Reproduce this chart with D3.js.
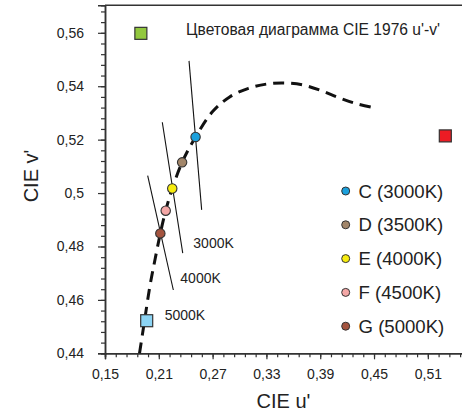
<!DOCTYPE html>
<html><head><meta charset="utf-8">
<script src="https://cdn.jsdelivr.net/npm/d3@7"></script>
<style>
body{margin:0;background:#fff;}
text{font-family:"Liberation Sans",Arial,sans-serif;fill:#222;}
</style></head>
<body><svg id="c" width="462" height="415"></svg>
<script>
// Data
const xTicks = [0.15, 0.21, 0.27, 0.33, 0.39, 0.45, 0.51];
const yTicks = [0.44, 0.46, 0.48, 0.50, 0.52, 0.54, 0.56];
const locusU = [0.1885, 0.194, 0.2, 0.206, 0.2117, 0.2177, 0.225, 0.236, 0.251, 0.27, 0.289, 0.31, 0.33, 0.35, 0.37, 0.39, 0.41, 0.43, 0.45];
const locusV = [0.44, 0.452, 0.465, 0.4755, 0.4849, 0.4934, 0.5017, 0.5115, 0.521, 0.5305, 0.536, 0.5392, 0.5408, 0.5412, 0.5405, 0.5385, 0.5358, 0.5335, 0.532];
const pointNames = ["C (3000K)", "D (3500K)", "E (4000K)", "F (4500K)", "G (5000K)"];
const pointU = [0.251, 0.236, 0.225, 0.2177, 0.2117];
const pointV = [0.521, 0.5115, 0.5017, 0.4934, 0.4849];
const pointColors = ["#1ba0dc", "#a2866a", "#f7ec0f", "#f4a7a6", "#a4543f"];
const squareU = [0.190, 0.1965, 0.5295];
const squareV = [0.5598, 0.4522, 0.5214];
const squareColors = ["#92c83e", "#8cd4f4", "#ec1c24"];
const isoLabels = ["3000K", "4000K", "5000K"];
const isoU1 = [0.2437, 0.2139, 0.1976];
const isoV1 = [0.5495, 0.5265, 0.5065];
const isoU2 = [0.2578, 0.2367, 0.2262];
const isoV2 = [0.4937, 0.4775, 0.4637];
const isoLabelU = [0.2485, 0.234, 0.2165];
const isoLabelV = [0.4796, 0.4662, 0.4524];
const title = "Цветовая диаграмма CIE 1976 u'-v'";

const svg = d3.select("#c");
const x = d3.scaleLinear().domain([0.15, 0.55]).range([105, 463.7]);
const y = d3.scaleLinear().domain([0.44, 0.5703]).range([353.3, 5.3]);
const fmt = d => d3.format(".2f")(d).replace(".", ",").replace(/0$/, "").replace(/,$/, "");
const fmtX = d => d3.format(".2f")(d).replace(".", ",");

// minor ticks
const xMinor = d3.range(0, 34).map(i => 0.15 + i * 0.012).filter(v => v <= 0.55);
const yMinor = d3.range(0, 33).map(i => 0.44 + i * 0.004).filter(v => v <= 0.5703);

const gx = svg.append("g").attr("transform", "translate(0,353.3)");
gx.call(d3.axisBottom(x).tickValues(xMinor).tickSize(4).tickFormat(""));
gx.append("g").call(d3.axisBottom(x).tickValues(xTicks).tickSize(6).tickPadding(10).tickFormat(fmtX));
const gy = svg.append("g").attr("transform", "translate(105,0)");
gy.call(d3.axisLeft(y).tickValues(yMinor).tickSize(4).tickFormat(""));
gy.append("g").call(d3.axisLeft(y).tickValues(yTicks).tickSize(7).tickPadding(14).tickFormat(fmt));
svg.selectAll(".domain").attr("stroke", "#333").attr("stroke-width", 1.5);
svg.selectAll(".tick line").attr("stroke", "#333").attr("stroke-width", 1.2);
svg.selectAll(".tick text").attr("font-size", 14).attr("font-family", "Liberation Sans, Arial, sans-serif").attr("fill", "#222");
// top border
svg.append("line").attr("x1", x(0.15)).attr("x2", 462).attr("y1", y(0.5703)).attr("y2", y(0.5703))
  .attr("stroke", "#333").attr("stroke-width", 1.5);

// axis titles
svg.append("text").attr("x", 283.5).attr("y", 408).attr("text-anchor", "middle").attr("font-size", 20).text("CIE u'");
svg.append("text").attr("transform", "translate(38,176) rotate(-90)").attr("text-anchor", "middle").attr("font-size", 20).text("CIE v'");

// title
svg.append("text").attr("x", 186).attr("y", 34.5).attr("font-size", 15.6).text(title);

// isotherm lines
const iso = d3.range(3);
svg.selectAll(".iso").data(iso).enter().append("line")
  .attr("x1", i => x(isoU1[i])).attr("y1", i => y(isoV1[i]))
  .attr("x2", i => x(isoU2[i])).attr("y2", i => y(isoV2[i]))
  .attr("stroke", "#111").attr("stroke-width", 1.1);
svg.selectAll(".isol").data(iso).enter().append("text")
  .attr("x", i => x(isoLabelU[i])).attr("y", i => y(isoLabelV[i]))
  .attr("font-size", 14).text(i => isoLabels[i]);

// locus
const locus = locusU.map((u, i) => [u, locusV[i]]);
svg.append("path").datum(locus)
  .attr("d", d3.line().x(d => x(d[0])).y(d => y(d[1])).curve(d3.curveCatmullRom))
  .attr("fill", "none").attr("stroke", "#111").attr("stroke-width", 3)
  .attr("stroke-dasharray", "11,7");

// squares
const sq = 12;
svg.selectAll(".sq").data(d3.range(3)).enter().append("rect")
  .attr("x", i => x(squareU[i]) - sq / 2).attr("y", i => y(squareV[i]) - sq / 2)
  .attr("width", sq).attr("height", sq)
  .attr("fill", i => squareColors[i]).attr("stroke", "#333").attr("stroke-width", 1.2);

// points
svg.selectAll(".pt").data(d3.range(5)).enter().append("circle")
  .attr("cx", i => x(pointU[i])).attr("cy", i => y(pointV[i])).attr("r", 4.7)
  .attr("fill", i => pointColors[i]).attr("stroke", "#333").attr("stroke-width", 1.1);

// legend
const lg = svg.append("g");
pointNames.forEach((n, i) => {
  const cy = 191 + i * 33.8;
  lg.append("circle").attr("cx", 345.7).attr("cy", cy).attr("r", 4)
    .attr("fill", pointColors[i]).attr("stroke", "#333").attr("stroke-width", 1);
  lg.append("text").attr("x", 358.5).attr("y", cy + 6.6).attr("font-size", 18.6).text(n);
});
</script></body></html>
